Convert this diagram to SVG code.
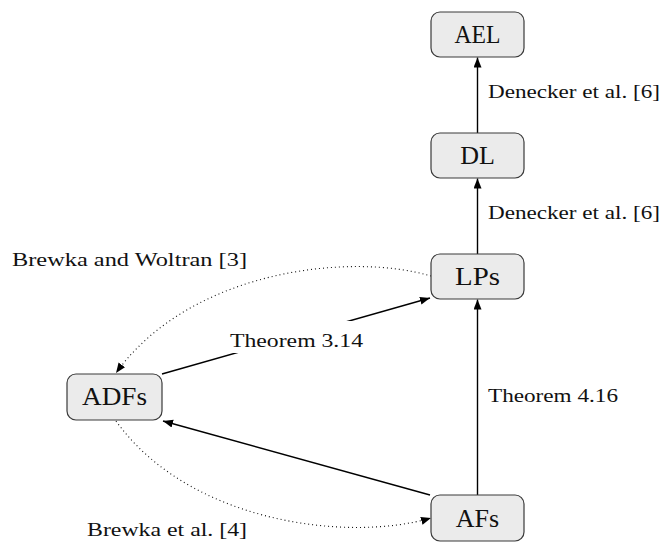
<svg xmlns="http://www.w3.org/2000/svg" width="666" height="547" viewBox="0 0 666 547">
<style>
.node rect{fill:#ebebeb;stroke:#3a3a3a;stroke-width:1.2}
.node text{font-size:26px;fill:#111;text-anchor:middle}
.lbl{font-size:19.5px;fill:#111}
.solid{stroke:#000;stroke-width:1.4;fill:none;marker-end:url(#ah)}
.dot{stroke:#111;stroke-width:1.1;fill:none;stroke-dasharray:1 3;marker-end:url(#ah)}
</style>
<defs>
<marker id="ah" markerUnits="userSpaceOnUse" markerWidth="11" markerHeight="9" refX="10" refY="4" orient="auto">
<path d="M0,0 L10,4 L0,8 Z" fill="#000"/>
</marker>
</defs>
<rect width="666" height="547" fill="#fff"/>
<g id="connectors" font-family="'Liberation Serif', 'DejaVu Serif', serif">
<line class="solid" x1="477.5" y1="133" x2="477.5" y2="57.5"/>
<line class="solid" x1="477.5" y1="254" x2="477.5" y2="178.5"/>
<line class="solid" x1="477.5" y1="495" x2="477.5" y2="299.5"/>
<line class="solid" x1="162" y1="374" x2="430" y2="298"/>
<line class="solid" x1="430" y1="495" x2="163" y2="421"/>
<path class="dot" d="M431,276 C350,252 190,270 116,373"/>
<path class="dot" d="M116,421 C190,524 350,542 431,518"/>
<rect x="226" y="321" width="141" height="32" fill="#fff"/>
<text class="lbl" x="230" y="347" textLength="133" lengthAdjust="spacingAndGlyphs">Theorem 3.14</text>
<text class="lbl" x="488" y="98" textLength="172" lengthAdjust="spacingAndGlyphs">Denecker et al. [6]</text>
<text class="lbl" x="488" y="219" textLength="172" lengthAdjust="spacingAndGlyphs">Denecker et al. [6]</text>
<text class="lbl" x="488" y="402" textLength="130" lengthAdjust="spacingAndGlyphs">Theorem 4.16</text>
<text class="lbl" x="12" y="266" textLength="235" lengthAdjust="spacingAndGlyphs">Brewka and Woltran [3]</text>
<text class="lbl" x="87" y="536" textLength="160" lengthAdjust="spacingAndGlyphs">Brewka et al. [4]</text>
</g>
<g font-family="'Liberation Serif', 'DejaVu Serif', serif">
<g id="AEL" class="node"><rect x="431" y="12" width="93" height="45" rx="9"/><text x="477.5" y="43" textLength="46" lengthAdjust="spacingAndGlyphs">AEL</text></g>
<g id="DL" class="node"><rect x="431" y="133" width="93" height="45" rx="9"/><text x="477.5" y="164">DL</text></g>
<g id="LPs" class="node"><rect x="431" y="254" width="93" height="45" rx="9"/><text x="477.5" y="285" textLength="45" lengthAdjust="spacingAndGlyphs">LPs</text></g>
<g id="ADFs" class="node"><rect x="67" y="374" width="95" height="46" rx="9"/><text x="114.5" y="405" textLength="65" lengthAdjust="spacingAndGlyphs">ADFs</text></g>
<g id="AFs" class="node"><rect x="431" y="495" width="93" height="46" rx="9"/><text x="477.5" y="527">AFs</text></g>
</g>
</svg>
